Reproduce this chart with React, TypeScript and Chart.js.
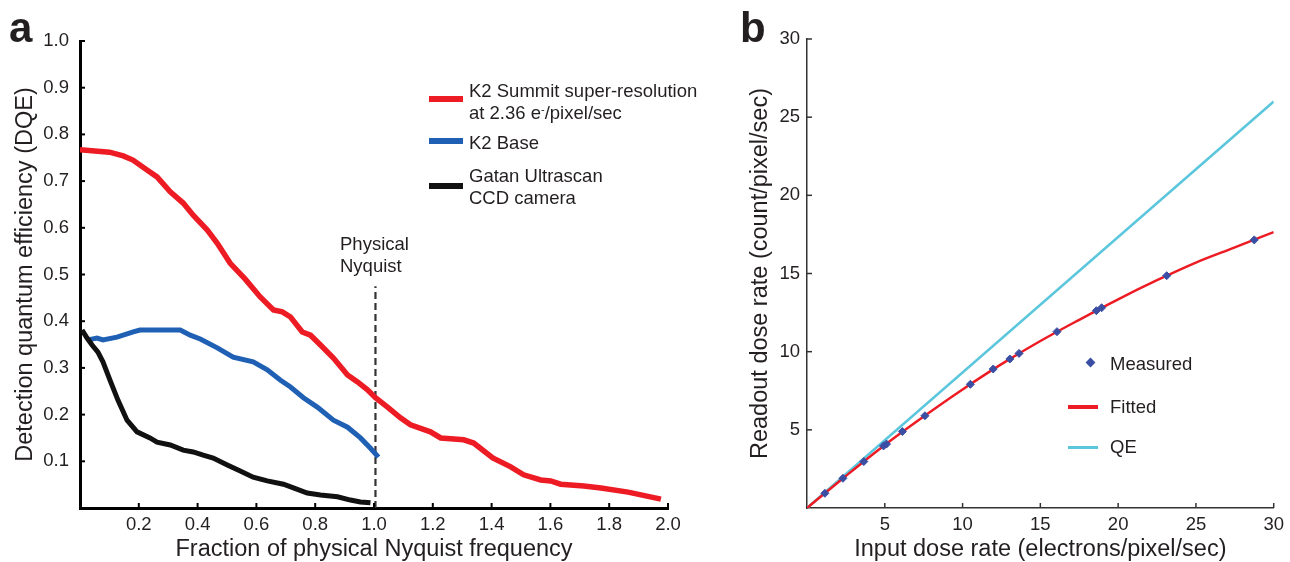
import React, { useEffect, useRef } from "react";
import { Chart, registerables } from "chart.js";

Chart.register(...registerables);

const FONT = "'Liberation Sans', Arial, Helvetica, sans-serif";
const TEXT = "#231f20";

// ---------- Panel a: DQE vs fraction of physical Nyquist frequency ----------
const k2SummitX = [0.0, 0.1, 0.147, 0.18, 0.228, 0.262, 0.307, 0.351, 0.385, 0.433, 0.467, 0.511, 0.562, 0.613, 0.658, 0.688, 0.716, 0.756, 0.784, 0.818, 0.862, 0.91, 0.944, 0.978, 1.005, 1.046, 1.09, 1.124, 1.192, 1.227, 1.305, 1.339, 1.404, 1.465, 1.509, 1.567, 1.601, 1.635, 1.714, 1.772, 1.864, 1.908, 1.976];
const k2SummitY = [0.767, 0.762, 0.754, 0.745, 0.724, 0.709, 0.677, 0.653, 0.627, 0.595, 0.567, 0.524, 0.49, 0.452, 0.424, 0.42, 0.409, 0.377, 0.37, 0.349, 0.321, 0.285, 0.27, 0.253, 0.236, 0.216, 0.193, 0.178, 0.163, 0.15, 0.146, 0.139, 0.107, 0.088, 0.071, 0.06, 0.058, 0.051, 0.047, 0.043, 0.034, 0.028, 0.019];

const k2BaseX = [0.027, 0.058, 0.078, 0.126, 0.181, 0.204, 0.341, 0.375, 0.409, 0.467, 0.521, 0.589, 0.637, 0.681, 0.716, 0.76, 0.807, 0.862, 0.91, 0.954, 0.988, 1.015];
const k2BaseY = [0.36, 0.364, 0.36, 0.366, 0.377, 0.381, 0.381, 0.37, 0.362, 0.343, 0.323, 0.313, 0.296, 0.274, 0.259, 0.236, 0.216, 0.188, 0.173, 0.15, 0.128, 0.109];

const ccdX = [0.007, 0.024, 0.041, 0.061, 0.078, 0.102, 0.129, 0.16, 0.194, 0.238, 0.262, 0.307, 0.351, 0.385, 0.419, 0.453, 0.501, 0.545, 0.589, 0.637, 0.692, 0.726, 0.773, 0.818, 0.876, 0.92, 0.954, 0.988];
const ccdY = [0.381, 0.364, 0.349, 0.334, 0.313, 0.274, 0.231, 0.188, 0.163, 0.15, 0.141, 0.135, 0.124, 0.12, 0.113, 0.107, 0.092, 0.079, 0.066, 0.058, 0.051, 0.043, 0.032, 0.028, 0.024, 0.017, 0.013, 0.011];

const nyquistX = [1.005, 1.005];
const nyquistY = [0, 0.475];

const legendA = ["K2 Summit super-resolution", "K2 Base", "Gatan Ultrascan", "CCD camera"];

// ---------- Panel b: readout vs input dose rate ----------
const measuredX = [1.15, 2.31, 3.65, 4.92, 5.11, 6.13, 7.58, 10.5, 11.97, 13.04, 13.63, 16.07, 18.6, 18.94, 23.12, 28.75];
const measuredY = [0.94, 1.9, 2.97, 3.97, 4.09, 4.89, 5.9, 7.91, 8.89, 9.53, 9.89, 11.28, 12.62, 12.81, 14.86, 17.15];

const fittedX = [0, 2.5, 5, 7.5, 10, 12.5, 15, 17.5, 20, 22.5, 25, 27.5, 30];
const fittedY = [0, 2.05, 4.03, 5.85, 7.58, 9.2, 10.68, 12.04, 13.35, 14.57, 15.7, 16.67, 17.65];

const qeX = [0, 30];
const qeY = [0, 26];

const pts = (xs: number[], ys: number[]) => xs.map((x, i) => ({ x, y: ys[i] }));

const inwardTicks = {
  id: "inwardTicks",
  afterDatasetsDraw(chart: any, _args: any, opts: any) {
    const { ctx, chartArea, scales } = chart;
    ctx.save();
    ctx.strokeStyle = opts.color;
    ctx.lineWidth = opts.width;
    const xs = scales.x;
    const ys = scales.y;
    xs.ticks.forEach((t: any) => {
      if (Math.abs(t.value) < 1e-9) return;
      const p = xs.getPixelForValue(t.value);
      ctx.beginPath();
      ctx.moveTo(p, chartArea.bottom);
      ctx.lineTo(p, chartArea.bottom - opts.length);
      ctx.stroke();
    });
    ys.ticks.forEach((t: any) => {
      if (Math.abs(t.value) < 1e-9) return;
      const p = ys.getPixelForValue(t.value);
      ctx.beginPath();
      ctx.moveTo(chartArea.left, p);
      ctx.lineTo(chartArea.left + opts.length, p);
      ctx.stroke();
    });
    ctx.restore();
  },
};

const fmt = (digits: number) => (v: any) =>
  Math.abs(Number(v)) < 1e-9 ? "" : Number(v).toFixed(digits);

function axis(opts: {
  min: number; max: number; step: number; digits: number; title: string;
  fit: (s: any) => void; padding: number; titlePad: any; borderW: number; borderC: string;
}) {
  return {
    type: "linear" as const,
    min: opts.min,
    max: opts.max,
    afterFit: opts.fit,
    grid: { display: false, drawTicks: false, tickLength: 0 },
    border: { display: true, color: opts.borderC, width: opts.borderW },
    ticks: {
      stepSize: opts.step,
      autoSkip: false,
      maxRotation: 0,
      padding: opts.padding,
      font: { size: 18.5, family: FONT },
      color: TEXT,
      callback: fmt(opts.digits),
    },
    title: {
      display: true,
      text: opts.title,
      font: { size: 23.5, family: FONT, lineHeight: 1.04 },
      color: TEXT,
      padding: opts.titlePad,
    },
  };
}

function Txt(props: { left: number; top: number; size?: number; lh?: number; bold?: boolean; children: any }) {
  const { left, top, size = 18.5, lh = 22, bold = false, children } = props;
  return (
    <div
      style={{
        position: "absolute",
        left,
        top,
        fontFamily: FONT,
        fontSize: size,
        lineHeight: `${lh}px`,
        fontWeight: bold ? "bold" : "normal",
        color: TEXT,
        whiteSpace: "nowrap",
      }}
    >
      {children}
    </div>
  );
}

function Bar(props: { left: number; top: number; w: number; h: number; color: string }) {
  return (
    <div
      style={{
        position: "absolute",
        left: props.left,
        top: props.top,
        width: props.w,
        height: props.h,
        background: props.color,
      }}
    />
  );
}

const RED = "#ed1c24";
const BLUE = "#1f60b4";
const BLACK = "#111111";
const CYAN = "#5cc6dc";
const DIAMOND = "#3a4ea3";

export default function App() {
  const refA = useRef<HTMLCanvasElement>(null);
  const refB = useRef<HTMLCanvasElement>(null);

  useEffect(() => {
    Chart.defaults.font.family = FONT;
    const chartA = new Chart(refA.current as HTMLCanvasElement, {
      type: "scatter",
      data: {
        datasets: [
          { data: pts(ccdX, ccdY), showLine: true, borderColor: BLACK, borderWidth: 5, pointRadius: 0, tension: 0 },
          { data: pts(k2BaseX, k2BaseY), showLine: true, borderColor: BLUE, borderWidth: 5, pointRadius: 0, tension: 0 },
          { data: pts(k2SummitX, k2SummitY), showLine: true, borderColor: RED, borderWidth: 5.5, pointRadius: 0, tension: 0 },
          { data: pts(nyquistX, nyquistY), showLine: true, borderColor: "#333333", borderWidth: 2.2, borderDash: [7, 4], pointRadius: 0 },
        ],
      },
      options: {
        animation: false,
        responsive: false,
        maintainAspectRatio: false,
        devicePixelRatio: 1,
        layout: { padding: { left: 0, top: 41, right: 32, bottom: 0 } },
        plugins: {
          legend: { display: false },
          tooltip: { enabled: false },
          inwardTicks: { color: "#000", width: 2, length: 5 },
        } as any,
        scales: {
          x: axis({ min: 0, max: 2, step: 0.2, digits: 1, title: "Fraction of physical Nyquist frequency",
            fit: (s: any) => { s.height = 54; }, padding: 6, titlePad: { top: 0, bottom: 0 }, borderW: 3, borderC: "#000" }),
          y: axis({ min: 0, max: 1, step: 0.1, digits: 1, title: "Detection quantum efficiency (DQE)",
            fit: (s: any) => { s.width = 80; }, padding: 11, titlePad: { top: 13, bottom: 0 }, borderW: 3, borderC: "#000" }),
        } as any,
      },
      plugins: [inwardTicks],
    } as any);

    const chartB = new Chart(refB.current as HTMLCanvasElement, {
      type: "scatter",
      data: {
        datasets: [
          { data: pts(measuredX, measuredY), showLine: false, pointStyle: "rectRot", pointRadius: 4, pointBackgroundColor: DIAMOND, pointBorderColor: DIAMOND, pointBorderWidth: 1 },
          { data: pts(fittedX, fittedY), showLine: true, borderColor: RED, borderWidth: 2.5, pointRadius: 0, cubicInterpolationMode: "monotone" },
          { data: pts(qeX, qeY), showLine: true, borderColor: CYAN, borderWidth: 2.5, pointRadius: 0 },
        ],
      },
      options: {
        animation: false,
        responsive: false,
        maintainAspectRatio: false,
        devicePixelRatio: 1,
        layout: { padding: { left: 0, top: 39, right: 12, bottom: 0 } },
        plugins: {
          legend: { display: false },
          tooltip: { enabled: false },
          inwardTicks: { color: "#333", width: 1.5, length: 5 },
        } as any,
        scales: {
          x: axis({ min: 0, max: 30, step: 5, digits: 0, title: "Input dose rate (electrons/pixel/sec)",
            fit: (s: any) => { s.height = 54; }, padding: 6, titlePad: { top: 0, bottom: 0 }, borderW: 1.5, borderC: "#333" }),
          y: axis({ min: 0, max: 30, step: 5, digits: 0, title: "Readout dose rate (count/pixel/sec)",
            fit: (s: any) => { s.width = 107; }, padding: 7, titlePad: { top: 48, bottom: 0 }, borderW: 1.5, borderC: "#333" }),
        } as any,
      },
      plugins: [inwardTicks],
    } as any);

    return () => {
      chartA.destroy();
      chartB.destroy();
    };
  }, []);

  return (
    <div style={{ position: "fixed", left: 0, top: 0, width: 1290, height: 562, background: "#fff", overflow: "hidden" }}>
      <canvas ref={refA} width={700} height={562} style={{ position: "absolute", left: 0, top: 0, width: 700, height: 562 }} />
      <canvas ref={refB} width={590} height={562} style={{ position: "absolute", left: 700, top: 0, width: 590, height: 562 }} />

      <Txt left={9} top={5} size={42} lh={45} bold>a</Txt>
      <Txt left={740} top={5} size={42} lh={45} bold>b</Txt>

      {/* Panel a legend */}
      <Bar left={429} top={96} w={34} h={6} color={RED} />
      <Txt left={469} top={79.6}>
        {legendA[0]}
        <br />
        at 2.36 e<sup style={{ fontSize: 11, lineHeight: 0, verticalAlign: 6 }}>-</sup>/pixel/sec
      </Txt>
      <Bar left={429} top={138} w={34} h={6} color={BLUE} />
      <Txt left={469} top={131.6}>{legendA[1]}</Txt>
      <Bar left={429} top={183} w={34} h={6} color={BLACK} />
      <Txt left={469} top={164.6}>
        {legendA[2]}
        <br />
        {legendA[3]}
      </Txt>

      <Txt left={340} top={232.6}>
        Physical
        <br />
        Nyquist
      </Txt>

      {/* Panel b legend */}
      <div style={{ position: "absolute", left: 1087, top: 359, width: 7, height: 7, background: DIAMOND, transform: "rotate(45deg)" }} />
      <Txt left={1110} top={352.6}>Measured</Txt>
      <Bar left={1068} top={405} w={30} h={4} color={RED} />
      <Txt left={1110} top={395.6}>Fitted</Txt>
      <Bar left={1068} top={445.5} w={30} h={3} color={CYAN} />
      <Txt left={1110} top={435.6}>QE</Txt>
    </div>
  );
}
